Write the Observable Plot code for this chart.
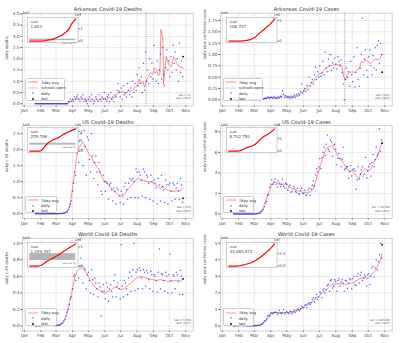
<!DOCTYPE html>
<html>
<head>
<meta charset="utf-8">
<script src="https://cdn.jsdelivr.net/npm/d3@7"></script>
<script src="https://cdn.jsdelivr.net/npm/@observablehq/plot@0.6"></script>
<style>
  html,body{margin:0;padding:0;background:#fff;}
  #root{position:relative;width:400px;height:343px;overflow:hidden;font-family:"DejaVu Sans",sans-serif;}
  #root svg{position:absolute;overflow:visible;}
  .lg{position:absolute;background:rgba(255,255,255,0.9);border:0.5px solid #cfcfcf;border-radius:1.5px;font-size:3.8px;color:#333;box-sizing:border-box;padding:1px 2px 0 2px;}
  .lg .row{height:5.4px;line-height:5.4px;white-space:nowrap;display:flex;align-items:center;}
  #root .lg svg{position:static;width:10px;height:4px;margin-right:3px;overflow:visible;}
</style>
</head>
<body>
<div id="root"></div>
<script>
// ---------------- DATA ----------------
const months = ["01-01","02-01","03-01","04-01","05-01","06-01","07-01","08-01","09-01","10-01","11-01"];
const dailyStart = "01-22";   // daily values below are every 2 days from this date
const dailyStep = 2;
const lastDate = "10-27";
const schoolsOpen = "08-18";

// Arkansas deaths (x10)
const arkDeathsDaily = [0,0,0,0,0,0,0,0,0,0,0,0,0,0,0,0,0,0,0,0,0,0,0,0,0,0,0,0,0,0,0,
 0.1,0.1,0.2,0.1,0.2,0.1,0.3,0.2,0.3,0.4,0.2,0.1,0.3,0.2,0.4,0.1,0.2,0.1,0.0,
 0.2,0.3,0.1,0.4,0.2,0.0,0.1,0.3,0.2,0.1,0.4,0.2,0.1,0.3,0.2,0.5,
 0.2,0.1,0.3,0.4,0.1,0.5,0.2,0.3,0.1,0.4,0.3,0.6,0.9,0.5,0.3,
 0.7,0.2,0.8,0.4,0.5,0.3,0.9,0.6,0.4,0.7,0.3,1.0,0.5,0.9,0.6,
 1.3,0.8,1.6,0.9,1.2,0.5,1.8,0.6,2.3,1.0,1.5,0.9,2.0,1.2,1.8,1.1,
 2.6,1.4,1.0,1.9,0.9,1.5,2.2,1.1,2.5,1.3,0.8,1.6,2.4,1.5,1.9,
 1.2,2.1,1.4,2.6,1.8,2.3,1.5,2.0,1.0,2.7,1.4,1.9,1.2];
const arkDeathsAvg = [["01-22",0],["03-24",0],["03-28",0.1],["04-01",0.15],["04-05",0.2],["04-10",0.25],["04-15",0.2],["04-20",0.25],["04-25",0.15],["05-01",0.15],["05-05",0.2],["05-10",0.1],["05-15",0.2],["05-20",0.15],["05-25",0.2],["06-01",0.25],["06-05",0.15],["06-10",0.3],["06-15",0.2],["06-20",0.3],["06-25",0.45],["06-28",0.6],["07-01",0.5],["07-05",0.55],["07-10",0.45],["07-15",0.6],["07-20",0.55],["07-25",0.6],["07-28",0.75],["08-01",0.8],["08-05",1.1],["08-08",0.9],["08-12",1.0],["08-15",0.75],["08-18",1.0],["08-22",1.2],["08-26",1.4],["08-30",1.3],["09-03",1.6],["09-07",1.5],["09-10",1.25],["09-13",1.3],["09-15",3.3],["09-18",3.0],["09-19",2.8],["09-20",0.85],["09-22",1.4],["09-25",2.1],["09-29",1.8],["10-01",1.7],["10-05",1.65],["10-09",2.1],["10-12",2.0],["10-15",1.8],["10-19",1.7],["10-22",1.6],["10-25",1.65],["10-27",1.55]];
const arkDeathsLast = 2.1;
const arkDeathsTicks = [0,0.5,1,1.5,2,2.5,3,3.5,4];
const arkDeathsCum = [["01-22",0],["03-15",0],["04-01",0.01],["04-15",0.03],["05-01",0.05],["05-15",0.1],["06-01",0.13],["06-15",0.18],["07-01",0.27],["07-15",0.35],["08-01",0.46],["08-15",0.6],["09-01",0.76],["09-15",0.95],["10-01",1.37],["10-15",1.6],["10-27",1.8]];
const arkFlu = [0.04, 0.16];

// Arkansas cases (x1000)
const arkCasesDaily = [0,0,0,0,0,0,0,0,0,0,0,0,0,0,0,0,0,0,0,0,0,0,0,0,0,
 0.01,0.01,0.02,0.02,0.03,0.04,0.03,0.06,0.05,0.04,
 0.06,0.05,0.03,0.07,0.04,0.05,0.03,0.06,0.04,0.08,0.06,0.2,0.12,0.05,0.09,
 0.06,0.05,0.07,0.03,0.08,0.04,0.06,0.1,0.05,0.12,0.08,0.14,0.1,0.18,0.35,0.15,
 0.2,0.25,0.18,0.32,0.22,0.5,0.3,0.38,0.45,0.35,0.55,0.72,0.45,0.62,0.5,
 0.75,0.52,0.6,0.85,0.55,1.05,0.7,0.62,0.9,0.75,1.0,0.65,0.82,0.7,0.92,
 0.78,0.68,0.95,0.85,0.75,0.88,0.6,0.35,0.0,0.45,0.7,0.5,0.62,0.3,0.85,0.55,
 0.4,0.95,0.28,0.6,1.15,0.45,0.3,0.7,1.0,1.8,0.55,0.9,1.1,0.65,0.5,
 0.95,1.1,0.75,0.55,0.98,0.7,1.15,0.65,1.2,1.3,0.8,1.25,1.0];
const arkCasesAvg = [["01-22",0],["03-12",0],["03-20",0.02],["04-01",0.05],["04-10",0.04],["04-20",0.06],["04-25",0.11],["05-01",0.07],["05-05",0.05],["05-15",0.07],["05-25",0.12],["06-01",0.18],["06-05",0.22],["06-10",0.3],["06-15",0.35],["06-20",0.4],["06-25",0.5],["07-01",0.58],["07-05",0.58],["07-10",0.65],["07-15",0.7],["07-20",0.76],["07-25",0.76],["08-01",0.8],["08-05",0.76],["08-10",0.78],["08-13",0.72],["08-16",0.5],["08-19",0.44],["08-23",0.56],["08-27",0.6],["09-01",0.62],["09-05",0.6],["09-10",0.66],["09-14",0.68],["09-18",0.85],["09-22",0.82],["09-26",0.88],["10-01",0.84],["10-05",0.8],["10-10",0.86],["10-15",0.9],["10-20",0.88],["10-24",0.93],["10-27",1.0]];
const arkCasesLast = 0.61;
const arkCasesTicks = [0,0.25,0.5,0.75,1,1.25,1.5,1.75];
const arkCasesCum = [["01-22",0],["03-10",0],["04-01",0.006],["05-01",0.03],["06-01",0.07],["07-01",0.2],["08-01",0.42],["09-01",0.62],["10-01",0.83],["10-15",0.95],["10-27",1.07]];

// US deaths (x1000)
const usDeathsDaily = [0,0,0,0,0,0,0,0,0,0,0,0,0,0,0,0,0,0,0,0,
 0,0.002,0.003,0.005,0.005,0.01,0.015,0.02,0.03,0.06,0.08,0.13,0.22,0.3,0.4,0.7,
 0.95,1.3,1.2,1.9,2.0,1.6,2.3,2.5,2.0,1.5,2.6,2.1,1.2,2.4,2.3,
 1.7,1.3,2.5,1.8,1.1,1.6,1.8,1.3,0.9,1.6,1.3,0.7,0.6,1.2,1.0,
 0.7,1.0,0.95,0.45,0.9,0.95,0.75,0.4,0.8,0.7,0.3,0.8,0.75,0.55,0.35,
 0.7,0.6,0.3,0.85,0.95,0.75,0.45,0.95,1.1,0.5,1.05,1.1,1.0,0.5,1.4,1.3,
 0.5,1.3,1.2,1.05,0.55,1.4,1.3,0.5,1.2,1.15,0.95,0.45,1.2,1.0,0.4,
 1.05,0.95,0.8,0.3,1.1,0.9,0.4,1.2,0.85,0.75,0.35,1.05,0.9,0.3,0.9,
 0.95,0.7,0.4,0.95,0.9,0.45,0.8,0.95,0.7,0.45,1.1,0.9,0.35];
const usDeathsAvg = [["01-22",0],["03-01",0],["03-15",0.01],["03-22",0.03],["03-26",0.2],["03-29",0.45],["04-01",0.8],["04-05",1.3],["04-08",1.7],["04-12",2.0],["04-16",2.15],["04-21",2.23],["04-25",2.1],["04-28",2.0],["05-02",1.85],["05-06",1.8],["05-10",1.65],["05-15",1.5],["05-20",1.4],["05-25",1.2],["06-01",1.0],["06-05",0.95],["06-10",0.85],["06-15",0.78],["06-20",0.68],["06-25",0.62],["07-01",0.55],["07-04",0.52],["07-08",0.6],["07-12",0.7],["07-16",0.8],["07-20",0.85],["07-25",0.95],["07-30",1.05],["08-03",1.12],["08-07",1.05],["08-12",1.05],["08-17",1.02],["08-22",1.0],["08-27",1.0],["09-01",0.95],["09-05",0.9],["09-10",0.85],["09-14",0.78],["09-18",0.86],["09-22",0.8],["09-26",0.75],["10-01",0.72],["10-05",0.7],["10-10",0.7],["10-15",0.72],["10-20",0.72],["10-24",0.75],["10-27",0.8]];
const usDeathsLast = 0.48;
const usDeathsTicks = [0,0.5,1,1.5,2,2.5];
const usDeathsCum = [["01-22",0],["03-01",0],["03-15",0.001],["04-01",0.05],["04-15",0.3],["05-01",0.65],["05-15",0.87],["06-01",1.05],["06-15",1.17],["07-01",1.28],["07-15",1.37],["08-01",1.55],["08-15",1.7],["09-01",1.84],["09-15",1.96],["10-01",2.08],["10-15",2.18],["10-27",2.257]];
const usFlu = [0.61, 0.8];

// US cases (x10000)
const usCasesDaily = [0,0,0,0,0,0,0,0,0,0,0,0,0,0,0,0,0,0,0,0,
 0.005,0.01,0.02,0.04,0.06,0.1,0.2,0.3,0.45,0.7,1.05,1.2,1.8,1.9,2.6,2.9,
 3.3,2.9,3.1,3.4,2.9,2.6,3.2,3.0,2.7,2.9,3.4,2.7,2.5,3.0,2.9,
 2.3,2.6,2.8,2.1,2.2,2.7,2.5,2.2,2.1,2.5,2.0,1.9,2.3,2.5,2.0,
 2.0,2.3,1.8,1.9,2.3,2.5,1.8,2.4,2.8,3.2,2.7,3.8,4.4,4.1,4.6,
 5.4,4.4,5.5,6.0,6.5,5.7,6.8,7.7,6.3,6.1,7.2,7.0,5.6,6.7,6.8,
 6.3,4.8,5.4,5.9,5.4,4.6,5.3,6.5,4.3,4.4,4.6,4.6,3.5,4.1,4.7,3.7,
 4.3,4.4,4.2,2.4,3.3,4.6,3.4,3.9,4.3,4.6,3.7,3.9,5.5,3.5,4.2,
 4.6,4.9,3.7,5.0,5.8,4.6,5.3,6.5,5.7,5.9,8.3,6.1,7.2];
const usCasesAvg = [["01-22",0],["03-01",0],["03-10",0.1],["03-15",0.3],["03-20",0.9],["03-25",1.7],["04-01",2.6],["04-05",3.0],["04-10",3.1],["04-15",2.9],["04-20",2.9],["04-25",2.9],["05-01",2.9],["05-05",2.7],["05-10",2.5],["05-15",2.4],["05-20",2.3],["05-25",2.2],["06-01",2.1],["06-05",2.1],["06-10",2.1],["06-15",2.15],["06-20",2.5],["06-25",3.3],["06-30",4.2],["07-05",5.0],["07-10",5.8],["07-15",6.4],["07-20",6.6],["07-25",6.6],["07-30",6.3],["08-05",5.6],["08-10",5.3],["08-15",5.0],["08-20",4.5],["08-25",4.2],["09-01",4.2],["09-05",4.0],["09-10",3.6],["09-13",3.4],["09-18",4.0],["09-22",4.2],["09-26",4.4],["10-01",4.2],["10-05",4.3],["10-10",4.8],["10-15",5.3],["10-20",5.9],["10-24",6.5],["10-27",7.0]];
const usCasesLast = 6.9;
const usCasesTicks = [0,2,4,6,8];
const usCasesCum = [["01-22",0],["03-01",0],["03-15",0.003],["04-01",0.21],["04-15",0.64],["05-01",1.1],["05-15",1.47],["06-01",1.8],["06-15",2.1],["07-01",2.7],["07-15",3.5],["08-01",4.6],["08-15",5.4],["09-01",6.1],["09-15",6.6],["10-01",7.3],["10-15",8.0],["10-27",8.7]];

// World deaths (x10000)
const worldDeathsDaily = [0.002,0.003,0.005,0.006,0.004,0.005,0.006,0.007,0.008,0.009,0.01,0.01,0.014,0.009,0.013,0.012,0.01,0.007,0.004,0.007,
 0.006,0.008,0.01,0.01,0.02,0.03,0.04,0.06,0.08,0.12,0.17,0.2,0.26,0.33,0.35,0.45,
 0.6,0.62,0.55,0.75,0.72,0.58,0.72,0.82,0.72,0.52,0.7,0.68,0.45,0.62,0.65,
 0.55,0.4,0.68,0.56,0.38,0.58,0.52,0.45,0.35,0.52,0.47,0.12,0.42,0.5,0.42,
 0.33,0.52,0.47,0.3,0.45,0.5,0.42,0.35,0.55,0.62,0.35,0.48,0.52,0.45,0.33,
 0.98,0.48,0.35,0.55,0.52,0.45,0.38,0.58,0.65,0.42,0.6,0.68,1.0,0.43,0.65,
 0.68,0.45,0.7,0.67,0.58,0.45,0.68,0.65,0.48,0.67,0.64,0.56,0.45,0.66,0.62,0.42,
 0.62,0.6,0.55,0.41,0.65,0.93,0.45,0.63,0.62,0.55,0.42,0.65,0.6,0.4,0.62,
 0.87,0.55,0.4,0.62,0.6,0.45,0.65,0.62,0.55,0.38,0.67,0.6,0.38];
const worldDeathsAvg = [["01-22",0.002],["02-10",0.008],["02-25",0.007],["03-05",0.01],["03-10",0.03],["03-15",0.06],["03-20",0.13],["03-25",0.25],["04-01",0.45],["04-05",0.58],["04-10",0.67],["04-15",0.7],["04-20",0.7],["04-25",0.66],["05-01",0.6],["05-05",0.55],["05-10",0.5],["05-15",0.46],["05-20",0.44],["05-25",0.42],["06-01",0.39],["06-08",0.42],["06-14",0.44],["06-20",0.47],["06-26",0.46],["07-01",0.44],["07-07",0.45],["07-14",0.49],["07-21",0.52],["07-28",0.57],["08-03",0.59],["08-10",0.6],["08-17",0.58],["08-24",0.57],["08-31",0.56],["09-07",0.55],["09-14",0.56],["09-21",0.55],["09-28",0.54],["10-05",0.54],["10-12",0.55],["10-19",0.53],["10-27",0.57]];
const worldDeathsLast = 0.57;
const worldDeathsTicks = [0,0.2,0.4,0.6,0.8,1.0];
const worldDeathsCum = [["01-22",0],["02-01",0.0003],["03-01",0.003],["03-15",0.006],["04-01",0.047],["04-15",0.13],["05-01",0.23],["05-15",0.31],["06-01",0.37],["06-15",0.44],["07-01",0.51],["07-15",0.58],["08-01",0.68],["08-15",0.77],["09-01",0.86],["09-15",0.94],["10-01",1.02],["10-15",1.09],["10-27",1.159]];
const worldFlu = [0.29, 0.65];

// World cases (x100000)
const worldCasesDaily = [0.006,0.008,0.02,0.03,0.02,0.025,0.035,0.03,0.032,0.026,0.02,0.05,0.02,0.02,0.01,0.01,0.01,0.01,0.012,0.015,
 0.02,0.025,0.03,0.04,0.045,0.08,0.11,0.14,0.2,0.3,0.34,0.42,0.6,0.65,0.6,0.75,
 0.82,0.72,0.8,0.85,0.82,0.7,0.78,0.95,0.78,0.75,0.82,0.98,0.72,0.8,0.88,
 0.8,0.75,0.87,0.88,0.74,0.85,0.95,0.82,0.9,1.05,1.0,0.92,1.05,1.2,1.15,
 1.1,1.25,1.3,1.1,1.35,1.4,1.3,1.4,1.6,1.7,1.45,1.7,1.9,1.6,1.75,
 2.05,2.0,1.7,2.15,2.25,2.0,2.2,2.45,2.5,2.1,2.75,2.8,2.3,2.4,2.8,
 2.7,2.1,2.75,2.85,2.4,2.65,2.8,2.6,2.1,2.75,2.7,2.25,2.6,2.85,2.8,2.25,
 2.85,3.0,2.5,2.45,3.0,3.15,2.6,3.05,3.25,2.75,2.9,3.1,3.0,2.4,3.1,
 3.15,2.5,3.0,3.5,3.6,2.95,3.5,4.0,3.4,3.9,4.3,5.0,4.1];
const worldCasesAvg = [["01-22",0.005],["02-01",0.025],["02-13",0.03],["02-25",0.01],["03-05",0.025],["03-10",0.04],["03-15",0.1],["03-20",0.22],["03-25",0.42],["04-01",0.7],["04-05",0.78],["04-10",0.82],["04-15",0.8],["04-20",0.78],["04-25",0.8],["05-01",0.82],["05-05",0.8],["05-10",0.83],["05-15",0.88],["05-20",0.95],["05-25",0.98],["06-01",1.1],["06-05",1.2],["06-10",1.3],["06-15",1.4],["06-20",1.5],["06-25",1.7],["07-01",1.8],["07-05",1.95],["07-10",2.05],["07-15",2.2],["07-20",2.35],["07-25",2.5],["08-01",2.55],["08-05",2.55],["08-10",2.55],["08-15",2.55],["08-20",2.52],["08-25",2.55],["09-01",2.6],["09-05",2.65],["09-10",2.75],["09-15",2.85],["09-20",2.9],["09-25",2.9],["10-01",2.9],["10-05",3.0],["10-10",3.2],["10-15",3.4],["10-20",3.7],["10-24",4.0],["10-27",4.4]];
const worldCasesLast = 4.9;
const worldCasesTicks = [0,1,2,3,4,5];
const worldCasesCum = [["01-22",0],["03-01",0.009],["04-01",0.09],["05-01",0.33],["06-01",0.62],["07-01",1.06],["08-01",1.75],["09-01",2.55],["10-01",3.4],["10-15",3.9],["10-27",4.35]];

// ---------------- HELPERS ----------------
const parse = d3.utcParse("%Y-%m-%d");
const dt = s => parse("2020-" + s);
const monthTicks = months.map(dt);
const xDomain = [new Date(Date.UTC(2019, 11, 28, 12)), dt("11-15")];
const insetX = [dt("01-08"), dt("11-10")];
const dailyRows = vals => vals.map((v, i) => ({date: d3.utcDay.offset(dt(dailyStart), i * dailyStep), v}));
const pairRows = arr => arr.map(([d, v]) => ({date: dt(d), v}));
const FONT = "DejaVu Sans, sans-serif";

const cols = [{svgX: 0, ml: 22, mr: 7.3, insetX: 26.7, legX: 25}, {svgX: 200, ml: 20, mr: 8.3, insetX: 226, legX: 222.7}];
const rows = [{svgY: 0, h: 114, mt: 12.7, mb: 8.5, insetY: 16.5}, {svgY: 113, h: 114, mt: 12.2, mb: 9, insetY: 127}, {svgY: 226, h: 117, mt: 11.7, mb: 12.5, insetY: 241.7}];

const panels = [
  {c:0, r:0, title:"Arkansas Covid-19 Deaths", ylabel:"daily deaths", exp:"1e1", yDomain:[-0.1, 4.03], ticks:arkDeathsTicks, fmt:".1f",
   daily:arkDeathsDaily, avg:arkDeathsAvg, last:arkDeathsLast, school:true, ann:"last = 21\ndate 10/27",
   inset:{cum:arkDeathsCum, total:"1,803", exp:"1e3", ticks:[0,1], fmt:"d", flu:arkFlu}},
  {c:1, r:0, title:"Arkansas Covid-19 Cases", ylabel:"daily new confirmed cases", exp:"1e3", yDomain:[-0.137, 1.911], ticks:arkCasesTicks, fmt:".2f",
   daily:arkCasesDaily, avg:arkCasesAvg, last:arkCasesLast, school:true, ann:"last = 611\ndate 10/27",
   inset:{cum:arkCasesCum, total:"106,727", exp:"1e5", ticks:[0,1], fmt:"d"}},
  {c:0, r:1, title:"US Covid-19 Deaths", ylabel:"daily c-19 deaths", exp:"1e3", yDomain:[-0.15, 2.75], ticks:usDeathsTicks, fmt:".1f",
   daily:usDeathsDaily, avg:usDeathsAvg, last:usDeathsLast, ann:"last = 479\ndate 10/27",
   inset:{cum:usDeathsCum, total:"225,706", exp:"1e5", ticks:[0,1,2], fmt:"d", flu:usFlu}},
  {c:1, r:1, title:"US Covid-19 Cases", ylabel:"daily new confirmed cases", exp:"1e4", yDomain:[-0.45, 8.6], ticks:usCasesTicks, fmt:"d",
   daily:usCasesDaily, avg:usCasesAvg, last:usCasesLast, ann:"last = 68,784\ndate 10/27",
   inset:{cum:usCasesCum, total:"8,702,750", exp:"1e6", ticks:[0,5], fmt:"d"}},
  {c:0, r:2, title:"World Covid-19 Deaths", ylabel:"daily c-19 deaths", exp:"1e4", yDomain:[-0.06, 1.06], ticks:worldDeathsTicks, fmt:".1f",
   daily:worldDeathsDaily, avg:worldDeathsAvg, last:worldDeathsLast, ann:"last = 5,790\ndate 10/27",
   inset:{cum:worldDeathsCum, total:"1,159,397", exp:"1e6", ticks:[0,1], fmt:"d", flu:worldFlu}},
  {c:1, r:2, title:"World Covid-19 Cases", ylabel:"daily new confirmed cases", exp:"1e5", yDomain:[-0.3, 5.3], ticks:worldCasesTicks, fmt:"d",
   daily:worldCasesDaily, avg:worldCasesAvg, last:worldCasesLast, ann:"last = 490,260\ndate 10/27",
   inset:{cum:worldCasesCum, total:"43,483,573", exp:"1e7", ticks:[0,2.5], fmt:".1f"}}
];

const root = document.getElementById("root");
const place = (el, x, y) => { el.style.left = x + "px"; el.style.top = y + "px"; root.appendChild(el); };

function mainPlot(p) {
  const C = cols[p.c], R = rows[p.r];
  const marks = [
    Plot.ruleX(monthTicks, {stroke: "#dddddd", strokeWidth: 0.6}),
    Plot.ruleY(p.ticks, {stroke: "#dddddd", strokeWidth: 0.6}),
    Plot.frame({stroke: "#bdbdbd", strokeWidth: 0.7})
  ];
  if (p.school) marks.push(Plot.ruleX([dt(schoolsOpen)], {stroke: "#555", strokeWidth: 0.6, strokeDasharray: "1,1.1"}));
  marks.push(
    Plot.line(pairRows(p.avg), {x: "date", y: "v", stroke: "#ff4d4d", strokeOpacity: 0.7, strokeWidth: 0.9}),
    Plot.dot(dailyRows(p.daily), {x: "date", y: "v", r: 0.75, fill: "blue", fillOpacity: 0.65, stroke: "none"}),
    Plot.dot([{date: dt(lastDate), v: p.last}], {x: "date", y: "v", r: 0.9, fill: "black"}),
    Plot.text([p.title], {text: d => d, frameAnchor: "top", dy: -5.5, fontSize: 5.2, fill: "#333"}),
    Plot.text([p.exp], {text: d => d, frameAnchor: "top-left", dy: -2.2, textAnchor: "start", fontSize: 3.8, fill: "#444"}),
    Plot.text([p.ylabel], {text: d => d, frameAnchor: "left", rotate: -90, dx: -15.5, fontSize: 3.8, fill: "#444"}),
    Plot.text([p.ann], {text: d => d, frameAnchor: "bottom-right", dx: -2.5, dy: -7, textAnchor: "end", lineAnchor: "bottom", fontSize: 2.7, lineHeight: 1.2, fill: "#555"})
  );
  const svg = Plot.plot({
    width: 200, height: R.h,
    marginLeft: C.ml, marginRight: C.mr, marginTop: R.mt, marginBottom: R.mb,
    style: {fontFamily: FONT, fontSize: "4.3px", color: "#444", background: "transparent"},
    x: {type: "utc", domain: xDomain, ticks: monthTicks, tickFormat: d3.utcFormat("%b"), tickSize: 1.5, tickPadding: 1.5, label: null},
    y: {domain: p.yDomain, ticks: p.ticks, tickFormat: d3.format(p.fmt), tickSize: 1.5, tickPadding: 1.5, label: null},
    marks
  });
  place(svg, C.svgX, R.svgY);
}

function insetPlot(p) {
  const C = cols[p.c], R = rows[p.r], I = p.inset;
  const w = 50.5, h = 25, mt = 6, mr = 8;
  const rowsCum = pairRows(I.cum);
  const T = d3.max(rowsCum, d => d.v);
  const marks = [Plot.frame({fill: "white", stroke: "#b0b0b0", strokeWidth: 0.6})];
  if (I.flu) {
    marks.push(
      Plot.rect([I.flu], {x1: () => dt("01-22"), x2: () => dt(lastDate), y1: d => d[0], y2: d => d[1], fill: "#b4b4b4"}),
      Plot.text(["seasonal flu"], {text: d => d, x: () => dt(lastDate), y: () => I.flu[0], dy: 1.6, textAnchor: "end", lineAnchor: "top", fontSize: 2.2, fill: "#666"})
    );
  }
  marks.push(
    Plot.line(rowsCum, {x: "date", y: "v", stroke: "red", strokeWidth: 1.2}),
    Plot.text(["total"], {text: d => d, frameAnchor: "top-left", dx: 3, dy: 2.8, textAnchor: "start", lineAnchor: "top", fontSize: 3.3, fill: "#444"}),
    Plot.text([I.total], {text: d => d, frameAnchor: "top-left", dx: 3, dy: 7.3, textAnchor: "start", lineAnchor: "top", fontSize: 4.0, fill: "#444"}),
    Plot.text([I.exp], {text: d => d, frameAnchor: "top-right", dy: -1.2, textAnchor: "middle", lineAnchor: "bottom", fontSize: 3.6, fill: "#444"})
  );
  const svg = Plot.plot({
    width: w + mr, height: h + mt,
    marginLeft: 0, marginRight: mr, marginTop: mt, marginBottom: 0,
    style: {fontFamily: FONT, fontSize: "3.8px", color: "#444", background: "transparent"},
    x: {type: "utc", domain: insetX, axis: null},
    y: {domain: [-0.06 * T, 1.06 * T], axis: "right", ticks: I.ticks, tickFormat: d3.format(I.fmt), tickSize: 1.3, tickPadding: 1, label: null},
    marks
  });
  place(svg, C.insetX, R.insetY - mt);
}

function legendBox(p) {
  const C = cols[p.c], R = rows[p.r];
  const items = [["line", "7day avg"]];
  if (p.school) items.push(["dash", "schools open"]);
  items.push(["dot", "daily"], ["last", "last"]);
  const div = document.createElement("div");
  div.className = "lg";
  const sw = {
    line: '<svg viewBox="0 0 10 4"><line x1="0" x2="10" y1="2" y2="2" stroke="#ff4d4d" stroke-opacity="0.7" stroke-width="0.9"/></svg>',
    dash: '<svg viewBox="0 0 10 4"><line x1="0" x2="10" y1="2" y2="2" stroke="#555" stroke-width="0.6" stroke-dasharray="1,1.1"/></svg>',
    dot: '<svg viewBox="0 0 10 4"><circle cx="5" cy="2" r="0.8" fill="blue" fill-opacity="0.65"/></svg>',
    last: '<svg viewBox="0 0 10 4"><circle cx="5" cy="2" r="0.9" fill="black"/></svg>'
  };
  div.innerHTML = items.map(([k, t]) => `<div class="row">${sw[k]}<span>${t}</span></div>`).join("");
  const width = p.school ? 40 : 31.5;
  const hgt = items.length * 5.4 + 1.6;
  div.style.width = width + "px";
  div.style.height = hgt + "px";
  const frameBottom = R.svgY + R.h - R.mb;
  place(div, C.legX, frameBottom - 4.5 - hgt);
}

for (const p of panels) { mainPlot(p); legendBox(p); insetPlot(p); }
</script>
</body>
</html>
